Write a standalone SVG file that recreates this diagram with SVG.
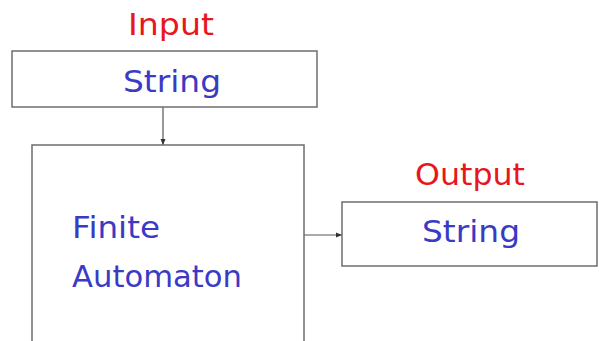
<svg xmlns="http://www.w3.org/2000/svg" width="599" height="341" viewBox="0 0 599 341">
  <style>
    .box { fill: #ffffff; stroke: #6e6e6e; stroke-width: 1.5; }
    .link { fill: none; stroke: #555555; stroke-width: 1.2; }
    .title { font-family: "DejaVu Sans", "Open Sans", sans-serif; font-size: 31px; fill: #e8161e; text-anchor: middle; }
    .label { font-family: "DejaVu Sans", "Open Sans", sans-serif; font-size: 31px; fill: #3a3ac4; }
  </style>
  <defs>
    <marker id="tip" viewBox="0 0 6 6" refX="6" refY="3" markerWidth="6" markerHeight="6" markerUnits="userSpaceOnUse" orient="auto">
      <path d="M0,0.5 L6,3 L0,5.5 Z" fill="#333333"/>
    </marker>
  </defs>
  <rect width="599" height="341" fill="#ffffff"/>

  <g id="connectors">
    <line class="link" x1="163" y1="107" x2="163" y2="145" marker-end="url(#tip)"/>
    <line class="link" x1="304" y1="235" x2="342" y2="235" marker-end="url(#tip)"/>
  </g>

  <g id="input">
    <text class="title" x="171" y="35" textLength="86" lengthAdjust="spacingAndGlyphs">Input</text>
    <rect class="box" x="12" y="51" width="305" height="56"/>
    <text class="label" x="172" y="92" text-anchor="middle" textLength="98" lengthAdjust="spacingAndGlyphs">String</text>
  </g>

  <g id="automaton">
    <rect class="box" x="32" y="145" width="272" height="210"/>
    <text class="label" x="72" y="238" textLength="88" lengthAdjust="spacingAndGlyphs">Finite</text>
    <text class="label" x="72" y="287" textLength="170" lengthAdjust="spacingAndGlyphs">Automaton</text>
  </g>

  <g id="output">
    <text class="title" x="470" y="185" textLength="110" lengthAdjust="spacingAndGlyphs">Output</text>
    <rect class="box" x="342" y="202" width="255" height="64"/>
    <text class="label" x="471" y="242" text-anchor="middle" textLength="98" lengthAdjust="spacingAndGlyphs">String</text>
  </g>
</svg>
